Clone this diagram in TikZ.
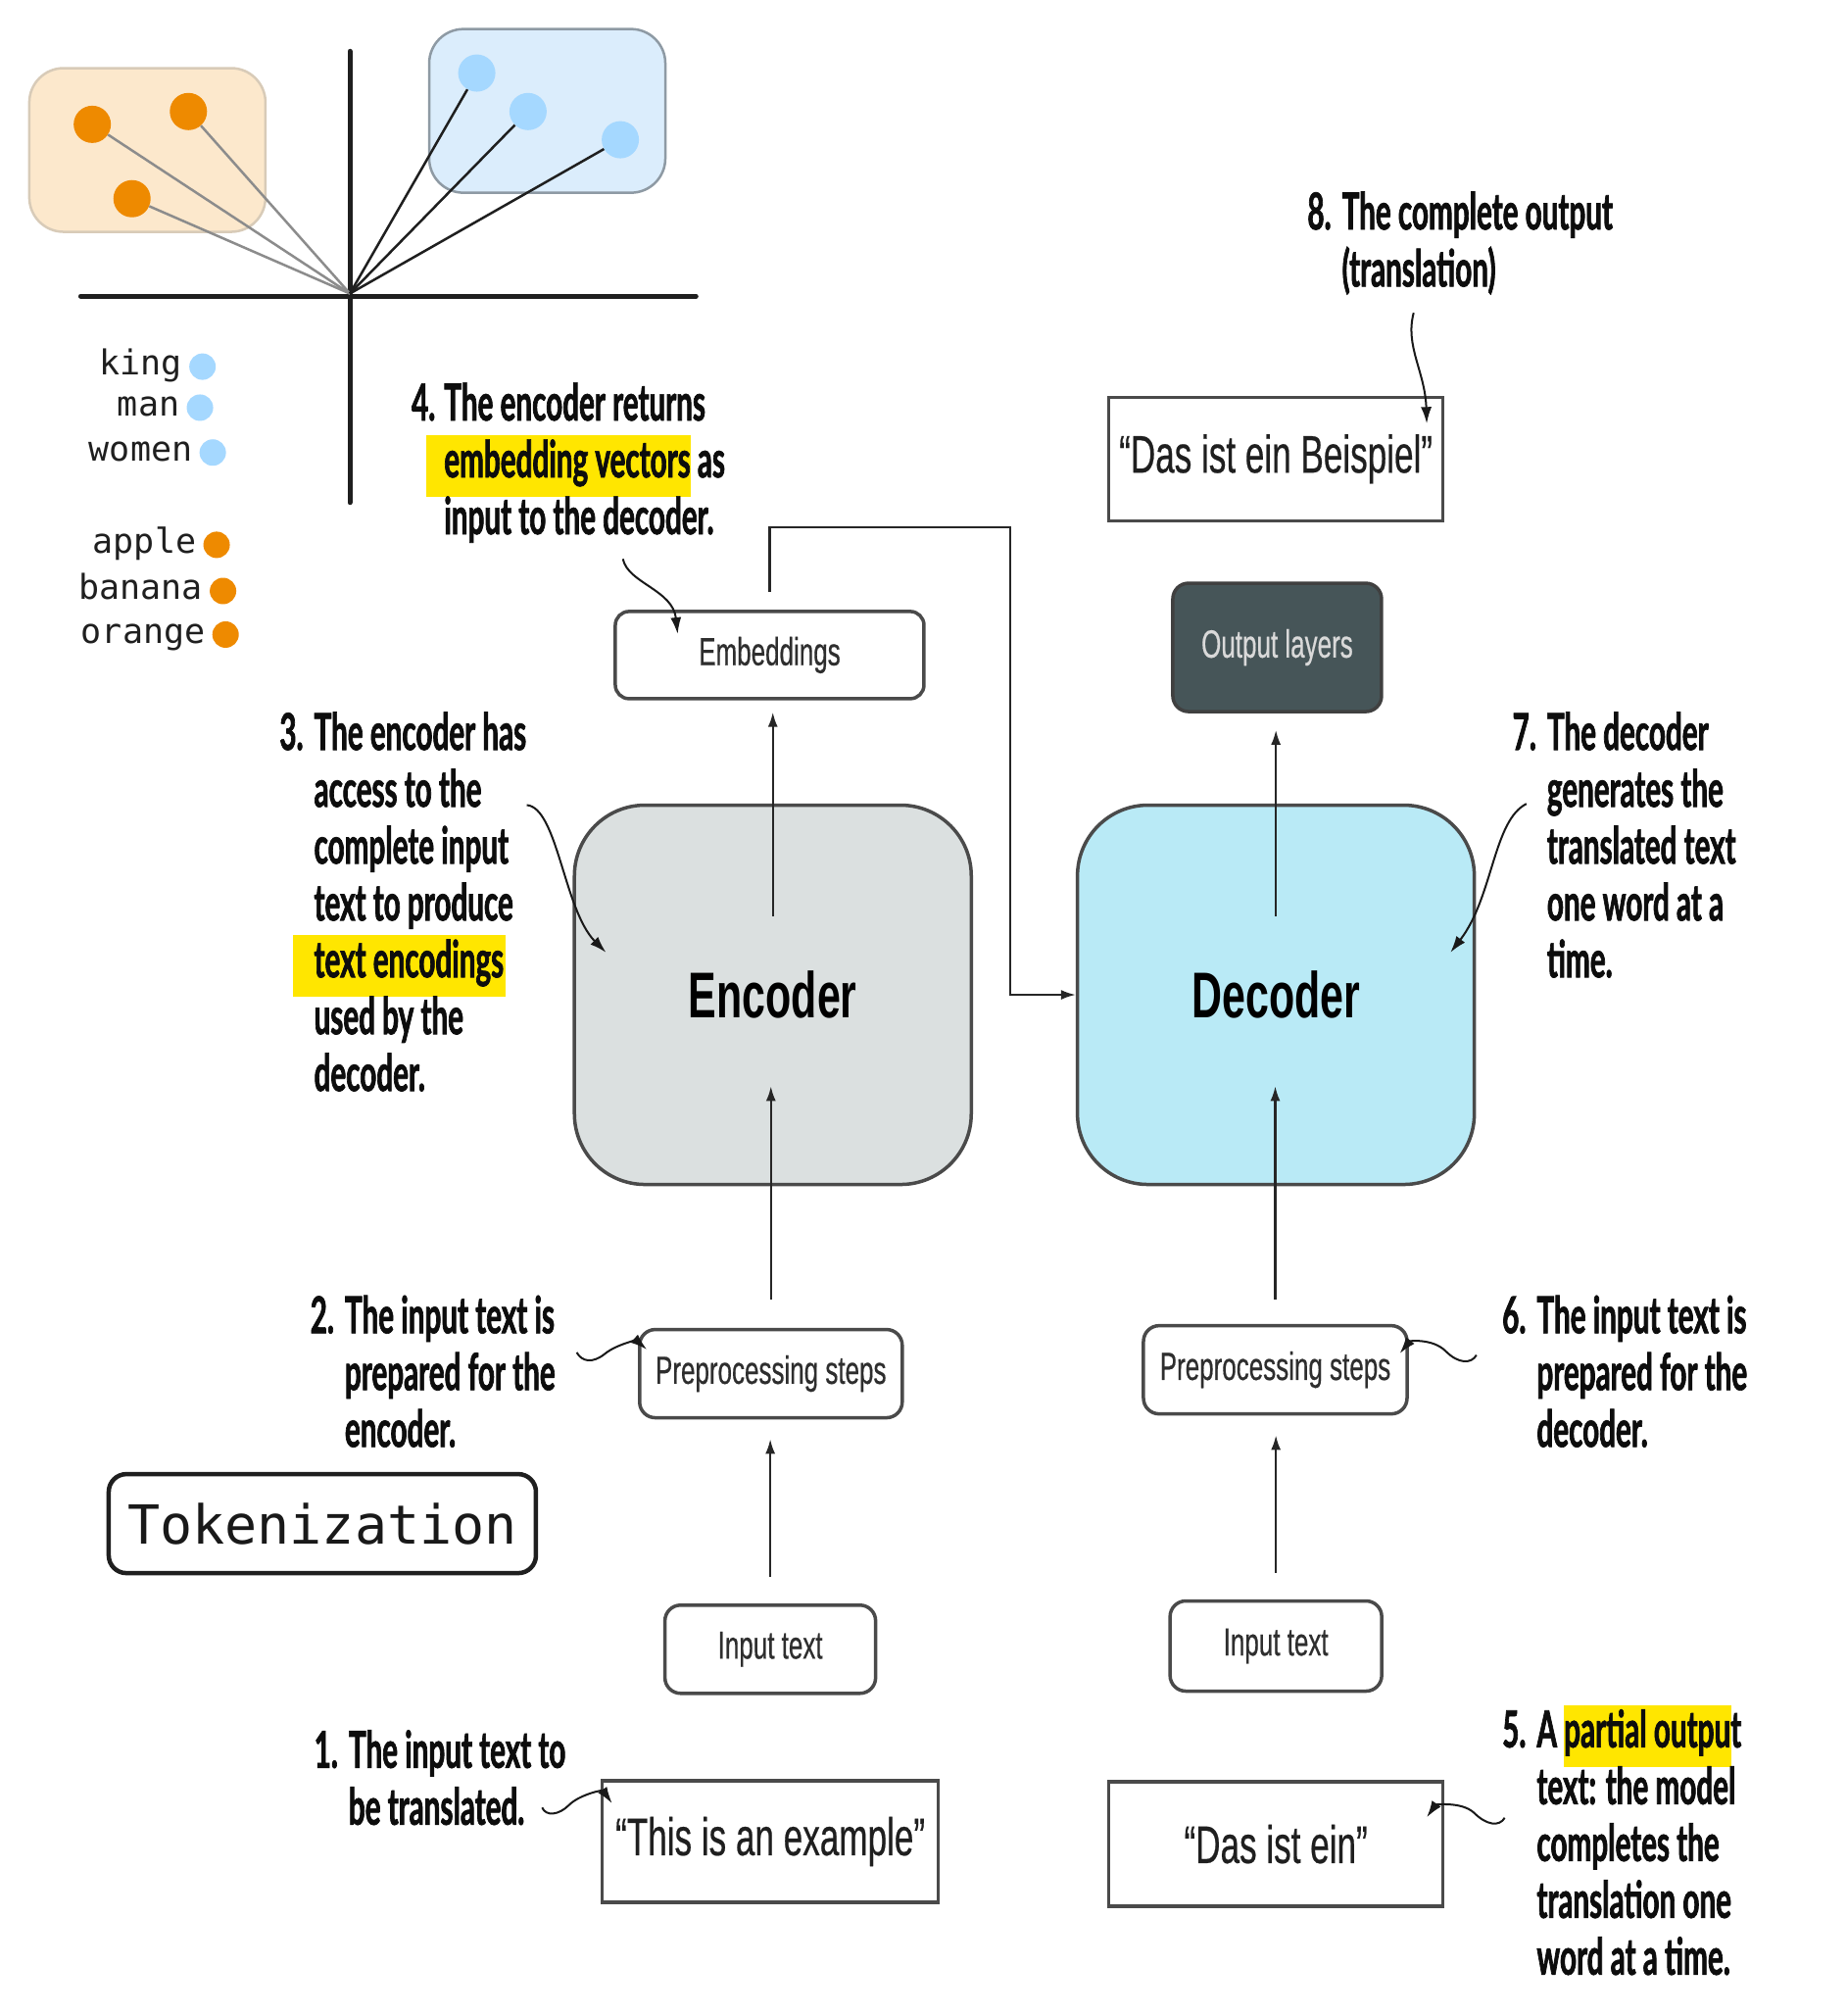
\documentclass[tikz,border=0pt]{standalone}
\usepackage{fontspec}
\setmainfont{Liberation Sans}
\newfontfamily\boxfont{Liberation Sans}[FakeStretch=0.65, FakeBold=0.4, BoldFeatures={FakeBold=0}]
\newfontfamily\notefont{Lato}[FakeStretch=0.57, BoldFeatures={FakeBold=1.3}]
\newfontfamily\monofont{DejaVu Sans Mono}
\usetikzlibrary{arrows.meta}

\definecolor{dotorange}{HTML}{EE8A00}
\definecolor{dotblue}{HTML}{A5D8FF}
\definecolor{orangebg}{HTML}{FCE8CC}
\definecolor{orangeedge}{HTML}{D8CBB8}
\definecolor{bluebg}{HTML}{DBEDFC}
\definecolor{blueedge}{HTML}{8E9AA4}
\definecolor{encfill}{HTML}{DBE0E0}
\definecolor{decfill}{HTML}{B9EAF6}
\definecolor{outfill}{HTML}{465558}
\definecolor{edge}{HTML}{4A4A4A}
\definecolor{hilite}{HTML}{FFE600}

% yellow marker behind a few words: left pad, words, right pad
\newcommand{\hl}[3]{\setbox0\hbox{#2}\rlap{\hspace{-#1}\smash{\textcolor{hilite}{\rule[-20pt]{\dimexpr\wd0+#1+#3\relax}{63pt}}}}#2}

\tikzset{
  group/.style={rounded corners=35pt, line width=2.5pt, minimum width=241pt, minimum height=167pt},
  axis/.style={line width=5pt, draw=black!88, line cap=round},
  ray/.style={line width=2.5pt},
  vec/.style={circle, inner sep=0pt, minimum size=38pt},
  key/.style={circle, inner sep=0pt, minimum size=27pt},
  legend/.style={font=\monofont\fontsize{35}{40}\selectfont, anchor=mid east, inner sep=0pt, text=black!88},
  tokbox/.style={draw=black!88, line width=4.5pt, rounded corners=18pt, minimum width=436pt, minimum height=101pt, font=\monofont\fontsize{55}{62}\selectfont, text=black!90},
  box/.style={draw=edge, line width=3.5pt, rounded corners=16pt, fill=white, inner sep=0pt, font=\boxfont\fontsize{40}{48}\selectfont, text=black!82},
  quote/.style={box, rounded corners=0pt, font=\boxfont\fontsize{54}{60}\selectfont, text=black!88},
  block/.style={box, rounded corners=72pt, minimum width=405pt, minimum height=387pt, font=\boxfont\bfseries\fontsize{66}{72}\selectfont, text=black},
  note/.style={font=\notefont\bfseries\fontsize{52}{58}\selectfont, inner sep=0pt, anchor=base west, text=black!95},
  flow/.style={->, line width=2.2pt, draw=black!85},
  hint/.style={-{Latex[length=17pt,width=11pt]}, line width=2pt, draw=black!90},
}

\begin{document}
\begin{tikzpicture}[x=1.308pt, y=-1.308pt, >={Latex[length=15pt,width=10pt]}]
\path[fill=white] (0,0) rectangle (1440.4,1572.6);
\useasboundingbox (0,0) rectangle (1440.4,1572.6);

% embedding space
\node[group, fill=orangebg, draw=orangeedge] (fruit) at (115,117) {};
\node[group, fill=bluebg, draw=blueedge] (royal) at (427,86.5) {};
\draw[axis] (273,40) -- (273,392);
\draw[axis] (63,231) -- (543,231);
\coordinate (origin) at (273,229);
\foreach \n/\u/\v in {o1/72/97, o2/147/87, o3/103/155}
  \node[vec, fill=dotorange] (\n) at (\u,\v) {};
\foreach \n/\u/\v in {b1/372/57, b2/412/87, b3/484/109}
  \node[vec, fill=dotblue] (\n) at (\u,\v) {};
\foreach \n in {o1,o2,o3}
  \draw[ray, draw=black!45] (origin) -- (\n);
\foreach \n in {b1,b2,b3}
  \draw[ray, draw=black!88] (origin) -- (\n);
\foreach \w/\u/\v/\c in {king/158/286/dotblue, man/156/318/dotblue, women/166/353/dotblue, apple/169/425/dotorange, banana/174/461/dotorange, orange/176/495/dotorange}{
  \node[key, fill=\c] (\w) at (\u,\v) {};
  \node[legend] at ([xshift=-7pt, yshift=-6pt]\w.west) {\w};
}
\node[tokbox] (tok) at (251.5,1188.5) {Tokenization};

% encoder side
\node[quote, minimum width=343pt, minimum height=124pt] (lquote) at (601,1436.5) {“This is an example”};
\node[box, minimum width=215pt, minimum height=90pt] (lin) at (601,1286.5) {Input text};
\node[box, minimum width=268pt, minimum height=90pt] (lprep) at (601.5,1071.5) {Preprocessing steps};
\node[block, fill=encfill] (enc) at (603,776) {Encoder};
\node[box, minimum width=315pt, minimum height=89pt, rounded corners=14pt] (emb) at (600.5,511) {Embeddings};

% decoder side
\node[quote, minimum width=341pt, minimum height=127pt] (rquote) at (995.5,1438.5) {“Das ist ein”};
\node[box, minimum width=216pt, minimum height=92pt] (rin) at (995.5,1284) {Input text};
\node[box, minimum width=269pt, minimum height=90pt] (rprep) at (995,1068.5) {Preprocessing steps};
\node[block, fill=decfill] (dec) at (995.5,776) {Decoder};
\node[box, fill=outfill, draw=black!75, text=black!15, minimum width=213pt, minimum height=131pt] (outl) at (996.5,505) {Output layers};
\node[quote, minimum width=341pt, minimum height=126pt] (beisp) at (995.5,358) {“Das ist ein Beispiel”};

\draw[flow, shorten <=27pt, shorten >=20pt] (lin.north) -- (lin.north |- lprep.south);
\draw[flow, shorten <=29pt, shorten >=-102pt] (lprep.north) -- (lprep.north |- enc.south);
\draw[flow, shorten <=-115pt, shorten >=12pt] (enc.north) -- (enc.north |- emb.south);
\draw[flow, shorten <=27pt, shorten >=20pt] (rin.north) -- (rin.north |- rprep.south);
\draw[flow, shorten <=25pt, shorten >=-102pt] (rprep.north) -- (rprep.north |- dec.south);
\draw[flow, shorten <=-115pt, shorten >=17pt] (dec.north) -- (dec.north |- outl.south);
\coordinate (bend) at (788,411);
\draw[flow, shorten <=18pt] (emb.north) |- (bend) |- (dec.west);

% numbered notes
\node[note] (note1) at (245,1379) {\begin{tabular}[t]{@{}l@{\hspace{11pt}}l@{}}1.&The input text to\\&be translated.\end{tabular}};
\node[note] (note2) at (242,1040) {\begin{tabular}[t]{@{}l@{\hspace{11pt}}l@{}}2.&The input text is\\&prepared for the\\&encoder.\end{tabular}};
\node[note] (note3) at (218,585) {\begin{tabular}[t]{@{}l@{\hspace{11pt}}l@{}}3.&The encoder has\\&access to the\\&complete input\\&text to produce\\&\hl{22pt}{text encodings}{2pt}\\&used by the\\&decoder.\end{tabular}};
\node[note] (note4) at (321,328) {\begin{tabular}[t]{@{}l@{\hspace{9pt}}l@{}}4.&The encoder returns\\&\hl{18pt}{embedding vectors}{0pt} as\\&input to the decoder.\end{tabular}};
\node[note] (note5) at (1172,1363) {\begin{tabular}[t]{@{}l@{\hspace{11pt}}l@{}}5.&A \hl{0pt}{partial output}{-10pt}\\&text: the model\\&completes the\\&translation one\\&word at a time.\end{tabular}};
\node[note] (note6) at (1172,1040) {\begin{tabular}[t]{@{}l@{\hspace{11pt}}l@{}}6.&The input text is\\&prepared for the\\&decoder.\end{tabular}};
\node[note] (note7) at (1180,585) {\begin{tabular}[t]{@{}l@{\hspace{11pt}}l@{}}7.&The decoder\\&generates the\\&translated text\\&one word at a\\&time.\end{tabular}};
\node[note] (note8) at (1020,179) {\begin{tabular}[t]{@{}l@{\hspace{11pt}}l@{}}8.&The complete output\\&(translation)\end{tabular}};

\coordinate (from1) at (423,1410);
\coordinate (from2) at (450,1055);
\coordinate (from3) at (411,628);
\coordinate (from4) at (486,436);
\coordinate (from5) at (1174,1418);
\coordinate (from6) at (1152,1057);
\coordinate (from7) at (1191,627);
\coordinate (from8) at (1103,244);
\draw[hint] (from1) .. controls (426,1417) and (436,1416) .. (444,1408) .. controls (452,1400) and (470,1396) .. ([shift={(9,19)}]lquote.north west);
\draw[hint] (from2) .. controls (454,1062) and (462,1064) .. (472,1056) .. controls (482,1048) and (497,1046) .. ([shift={(7,17)}]lprep.north west);
\draw[hint] (from3) .. controls (435,630) and (440,710) .. ([shift={(26,-33)}]enc.west);
\draw[hint] (from4) .. controls (490,455) and (525,460) .. ([shift={(50,19)}]emb.north west);
\draw[hint] (from5) .. controls (1170,1425) and (1160,1424) .. (1150,1414) .. controls (1140,1405) and (1120,1408) .. ([shift={(-14,29)}]rquote.north east);
\draw[hint] (from6) .. controls (1148,1064) and (1138,1064) .. (1128,1054) .. controls (1118,1044) and (1100,1046) .. ([shift={(-7,23)}]rprep.north east);
\draw[hint] (from7) .. controls (1165,640) and (1165,700) .. ([shift={(-20,-33)}]dec.east);
\draw[hint] (from8) .. controls (1096,270) and (1112,290) .. ([shift={(-14,22)}]beisp.north east);
\end{tikzpicture}
\end{document}
